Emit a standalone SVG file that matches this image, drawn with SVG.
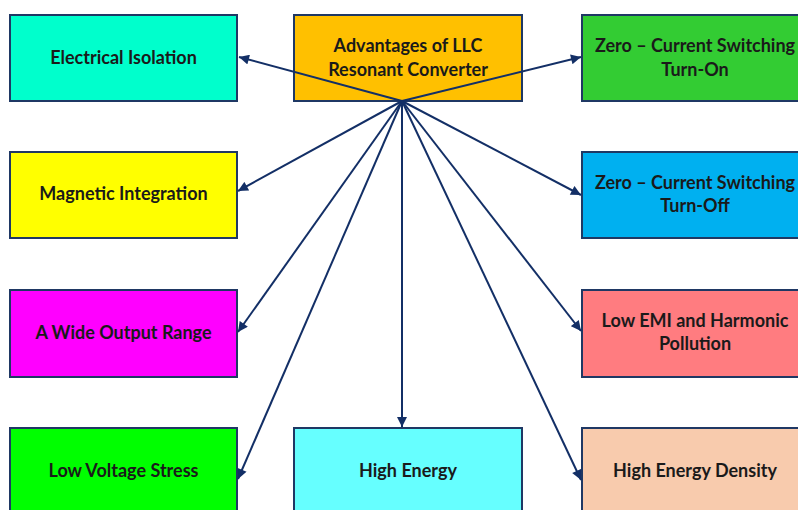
<svg xmlns="http://www.w3.org/2000/svg" width="798" height="510" viewBox="0 0 798 510">
<defs>
<marker id="ah" viewBox="0 0 10 10" refX="10" refY="5" markerWidth="11" markerHeight="10" markerUnits="userSpaceOnUse" orient="auto">
<path d="M0,0 L10,5 L0,10 z" fill="#132F66"/>
</marker>
<style>
.box{stroke:#1F3864;stroke-width:2}
.t{font-family:Lato,"Open Sans","Liberation Sans",sans-serif;font-weight:bold;font-size:18px;fill:#1a1a1a;text-anchor:middle;dominant-baseline:central}
.c{stroke:#132F66;stroke-width:2;fill:none;marker-end:url(#ah)}
</style>
</defs>
<rect width="798" height="510" fill="#ffffff"/>
<g id="n-advantages">
<rect class="box" x="294" y="15" width="228" height="86" fill="#FFC000"/>
<text class="t" x="408" y="45">Advantages of LLC</text>
<text class="t" x="408" y="69">Resonant Converter</text>
</g>
<g id="n-isolation">
<rect class="box" x="10" y="15" width="227" height="86" fill="#00FFCC"/>
<text class="t" x="123.5" y="57">Electrical Isolation</text>
</g>
<g id="n-zcs-on">
<rect class="box" x="582" y="15" width="228" height="86" fill="#33CC33"/>
<text class="t" x="695" y="45">Zero – Current Switching</text>
<text class="t" x="695" y="69">Turn-On</text>
</g>
<g id="n-magnetic">
<rect class="box" x="10" y="152" width="227" height="86" fill="#FFFF00"/>
<text class="t" x="123.5" y="193">Magnetic Integration</text>
</g>
<g id="n-zcs-off">
<rect class="box" x="582" y="152" width="228" height="86" fill="#00B0F0"/>
<text class="t" x="695" y="182">Zero – Current Switching</text>
<text class="t" x="695" y="205">Turn-Off</text>
</g>
<g id="n-wide">
<rect class="box" x="10" y="290" width="227" height="87" fill="#FF00FF"/>
<text class="t" x="123.5" y="332">A Wide Output Range</text>
</g>
<g id="n-emi">
<rect class="box" x="582" y="290" width="228" height="87" fill="#FF7C80"/>
<text class="t" x="695" y="320">Low EMI and Harmonic</text>
<text class="t" x="695" y="343">Pollution</text>
</g>
<g id="n-lowv">
<rect class="box" x="10" y="428" width="227" height="100" fill="#00FF00"/>
<text class="t" x="123.5" y="470">Low Voltage Stress</text>
</g>
<g id="n-highenergy">
<rect class="box" x="294" y="428" width="228" height="100" fill="#66FFFF"/>
<text class="t" x="408" y="470">High Energy</text>
</g>
<g id="n-density">
<rect class="box" x="582" y="428" width="228" height="100" fill="#F8CBAD"/>
<text class="t" x="695" y="470">High Energy Density</text>
</g>
<g id="connectors">
<line class="c" x1="402" y1="101" x2="239" y2="57"/>
<line class="c" x1="402" y1="101" x2="581" y2="57"/>
<line class="c" x1="402" y1="101" x2="238" y2="191"/>
<line class="c" x1="402" y1="101" x2="581" y2="195"/>
<line class="c" x1="402" y1="101" x2="238" y2="332"/>
<line class="c" x1="402" y1="101" x2="581" y2="331"/>
<line class="c" x1="402" y1="101" x2="238" y2="479"/>
<line class="c" x1="402" y1="101" x2="402" y2="427"/>
<line class="c" x1="402" y1="101" x2="581" y2="480"/>
</g>
</svg>
